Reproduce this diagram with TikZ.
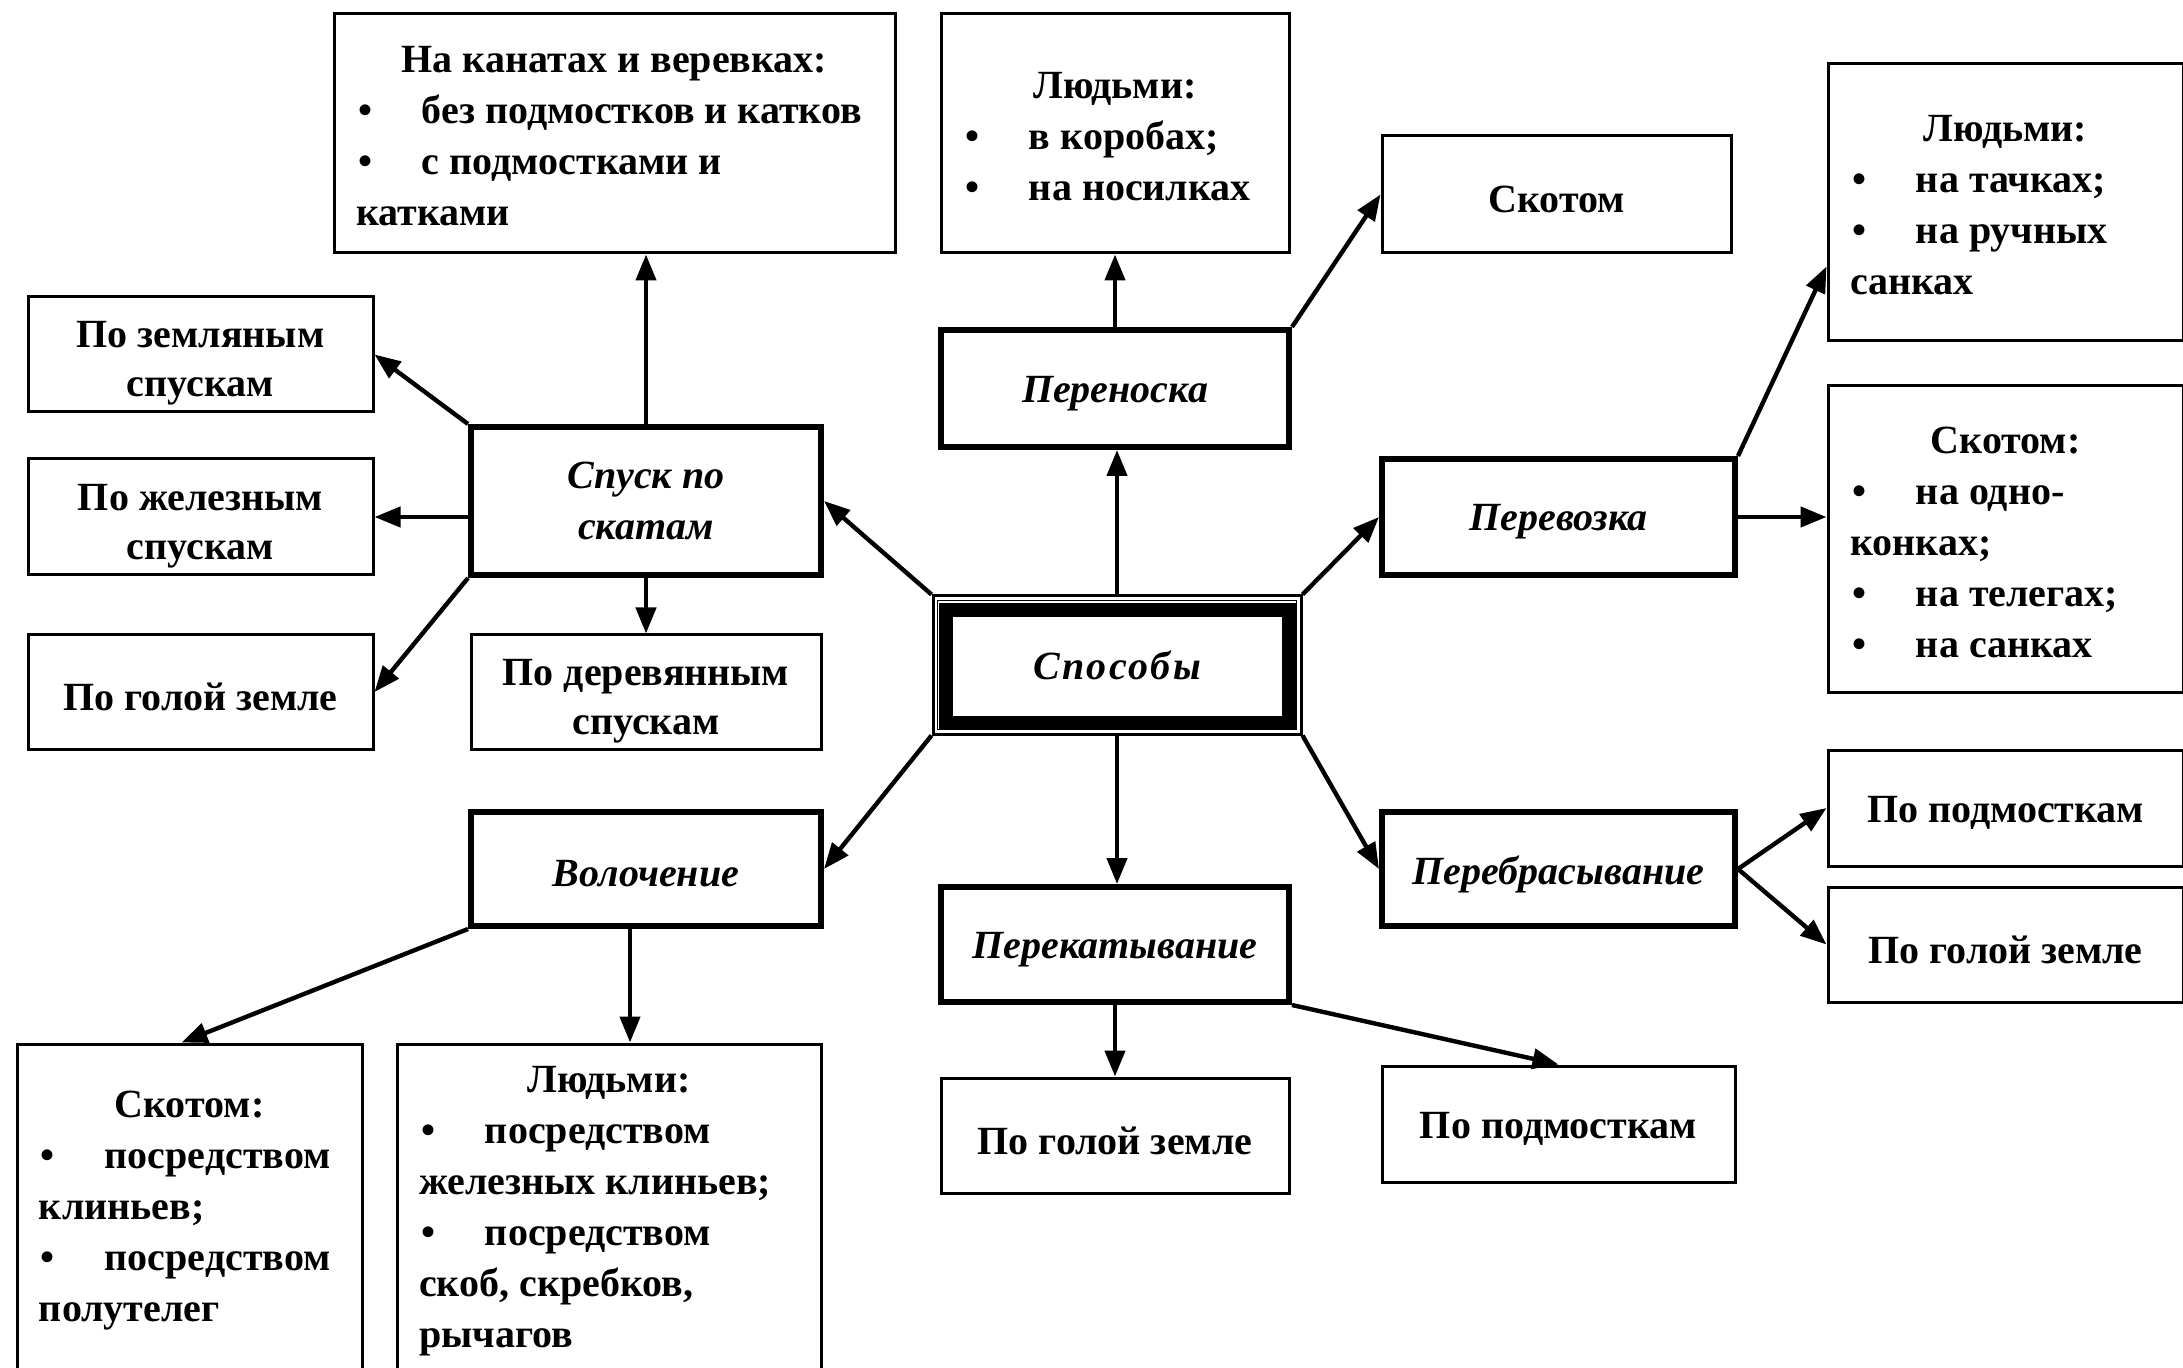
\documentclass[tikz,border=0pt]{standalone}
\usepackage{fontspec}
\setmainfont{Liberation Serif}
\usetikzlibrary{arrows.meta,calc}
\setlength{\parindent}{0pt}
\newcommand\txtfont{\fontsize{20}{25.5}\selectfont\bfseries}
\newcommand\bul{\makebox[33pt][l]{\hspace{1pt}\textbullet}}
\newcommand\li[1]{\mbox{\bul #1}}
\newcommand\ttl[1]{\makebox[\hsize]{#1}}
% lower the printed text without changing the measured box
\newcommand\dn[2]{\raisebox{-#1}[\height][\depth]{#2}}
\newcommand\two[2]{\dn{4pt}{\def\arraystretch{0.96}\begin{tabular}{@{}c@{}}#1\\#2\end{tabular}}}
\newcommand\one[1]{\dn{2.5pt}{#1}}
\newcommand\lstx[2]{\dn{1.5pt}{\parbox{#1}{#2}}}
\tikzset{
  box/.style={draw, line width=1.5pt, inner sep=0pt, font=\txtfont, align=center},
  mbox/.style={draw, line width=3pt, inner sep=0pt, font=\txtfont\itshape, align=center},
  arr/.style={line width=2.2pt, -{Triangle[length=13pt,width=10pt]}},
}
\begin{document}
\begin{tikzpicture}[x=0.5pt,y=-0.5pt]
\useasboundingbox (0,0) rectangle (2183,1368);
\fill[white] (0,0) rectangle (2183,1368);
\clip (0,0) rectangle (2183,1368);

% ---- nodes ----
\node[box, minimum width=280.5pt, minimum height=119.5pt] (kanaty) at (614.5,133.5)
  {\lstx{258.5pt}{\ttl{На канатах и веревках:}\\ \li{без подмостков и катков}\\ \li{с подмостками и}\\ катками}};
\node[box, minimum width=174pt, minimum height=119.5pt] (lyudT) at (1115,133.5)
  {\lstx{152pt}{\ttl{Людьми:}\\ \li{в коробах;}\\ \li{на носилках}}};
\node[box, minimum width=174.5pt, minimum height=58.5pt] (skotT) at (1556.5,194.5) {\one{Скотом}};
\node[box, minimum width=177.5pt, minimum height=138.5pt] (lyudR) at (2005.5,202.5)
  {\lstx{155.5pt}{\ttl{Людьми:}\\ \li{на тачках;}\\ \li{на ручных}\\ санках}};
\node[box, minimum width=177.5pt, minimum height=153pt] (skotR) at (2005.5,539)
  {\lstx{155.5pt}{\ttl{Скотом:}\\ \li{на одно-}\\ конках;\\ \li{на телегах;}\\ \li{на санках}}};

\node[box, minimum width=172.5pt, minimum height=57.5pt] (zem) at (200.5,354.5) {\two{По земляным}{спускам}};
\node[mbox, minimum width=175pt, minimum height=74pt] (spusk) at (646,501)
  {\dn{1.5pt}{\begin{tabular}{@{}c@{}}Спуск по\\скатам\end{tabular}}};
\node[mbox, minimum width=174pt, minimum height=58.5pt] (perenoska) at (1115,388.5) {\one{Переноска}};
\node[mbox, minimum width=176.5pt, minimum height=58pt] (perevozka) at (1558.5,517) {\one{Перевозка}};
\node[box, minimum width=172.5pt, minimum height=58pt] (zhel) at (200.5,517) {\two{По железным}{спускам}};
\node[box, minimum width=172.5pt, minimum height=57pt] (golL) at (200.5,692) {\one{По голой земле}};
\node[box, minimum width=175pt, minimum height=57pt] (derev) at (646,692) {\two{По деревянным}{спускам}};

\node[box, minimum width=184pt, minimum height=69pt, font=\txtfont\itshape] (sposoby) at (1117,665)
  {\addfontfeature{LetterSpace=6}Способы};
\draw[line width=0.5pt] ($(sposoby.north west)+(6,6)$) rectangle ($(sposoby.south east)+(-6,-6)$);
\draw[line width=7pt] ($(sposoby.north west)+(14,16)$) rectangle ($(sposoby.south east)+(-14,-13)$);

\node[mbox, minimum width=175pt, minimum height=57pt] (vol) at (646,869) {\one{Волочение}};
\node[mbox, minimum width=174pt, minimum height=57.5pt] (perekat) at (1115,944.5) {\one{Перекатывание}};
\node[mbox, minimum width=176.5pt, minimum height=57pt] (perebr) at (1558.5,869) {\one{Перебрасывание}};
\node[box, minimum width=177.5pt, minimum height=58pt] (podmR) at (2005.5,808) {\one{По подмосткам}};
\node[box, minimum width=177.5pt, minimum height=57.5pt] (golR) at (2005.5,944.5) {\one{По голой земле}};
\node[box, minimum width=174pt, minimum height=57.5pt] (golB) at (1115,1135.5) {\one{По голой земле}};
\node[box, minimum width=176.5pt, minimum height=58pt] (podmB) at (1558.5,1124) {\one{По подмосткам}};

\node[box, minimum width=172.5pt, minimum height=164pt] (skotB) at (189.5,1208)
  {\lstx{150.5pt}{\ttl{Скотом:}\\ \li{посредством}\\ клиньев;\\ \li{посредством}\\ полутелег}};
\node[box, minimum width=212pt, minimum height=164pt] (lyudB) at (609,1208)
  {\lstx{190pt}{\ttl{Людьми:}\\ \li{посредством}\\ железных клиньев;\\ \li{посредством}\\ скоб, скребков,\\ рычагов}};

% ---- connectors ----
\draw[arr] (spusk.north) -- (spusk.north |- kanaty.south);
\draw[arr] (spusk.north west) -- (zem.east);
\draw[arr] (spusk.west |- zhel.east) -- (zhel.east);
\draw[arr] (spusk.south west) -- (golL.east);
\draw[arr] (spusk.south) -- (spusk.south |- derev.north);

\draw[arr] (sposoby.north west) -- (spusk.east);
\draw[arr] (sposoby.north) -- (sposoby.north |- perenoska.south);
\draw[arr] (perenoska.north) -- (perenoska.north |- lyudT.south);
\draw[arr] (perenoska.north east) -- (skotT.west);
\draw[arr] (sposoby.north east) -- (perevozka.west);
\draw[arr] (perevozka.north east) -- ($(lyudR.south west)+(0,-76)$);
\draw[arr] (perevozka.east) -- (perevozka.east -| skotR.west);

\draw[arr] (sposoby.south west) -- (vol.east);
\draw[arr] (sposoby.south) -- (sposoby.south |- perekat.north);
\draw[arr] (sposoby.south east) -- (perebr.west);
\draw[arr] (perebr.east) -- (podmR.west);
\draw[arr] (perebr.east) -- (golR.west);

\coordinate (volv) at ($(vol.south)+(-16,0)$);
\draw[arr] (vol.south west) -- ($(skotB.north)+(-8,0)$);
\draw[arr] (volv) -- (volv |- lyudB.north);
\draw[arr] (perekat.south) -- (perekat.south |- golB.north);
\draw[arr] (perekat.south east) -- (podmB.north);
\end{tikzpicture}
\end{document}
